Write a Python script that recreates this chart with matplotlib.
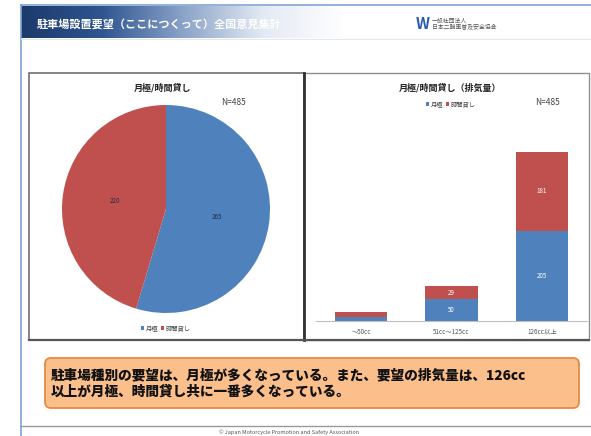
import numpy as np
import matplotlib
matplotlib.use("Agg")
import matplotlib.pyplot as plt
from matplotlib.patches import Rectangle, FancyBboxPatch

plt.rcParams['font.family'] = ['Noto Sans CJK JP', 'DejaVu Sans']

# ---- data ----
slide_title = "駐車場設置要望（ここにつくって）全国意見集計"
pie_title = "月極/時間貸し"
bar_title = "月極/時間貸し（排気量）"
n_label = "N=485"
series_names = ["月極", "時間貸し"]
pie_values = [265, 220]
bar_categories = ["〜50cc", "51cc〜125cc", "126cc以上"]
monthly = [10, 50, 205]
hourly = [10, 29, 181]
callout = ("駐車場種別の要望は、月極が多くなっている。また、要望の排気量は、126cc\n"
           "以上が月極、時間貸し共に一番多くなっている。")
footer = "© Japan Motorcycle Promotion and Safety Association"
logo_text = "一般社団法人\n日本二輪車普及安全協会"

BLUE = "#4F81BD"
RED = "#C0504D"

W, H = 591, 436
fig = plt.figure(figsize=(W / 100, H / 100), dpi=100)
fig.patch.set_facecolor("white")


def ax_px(x0, y0, x1, y1, **kw):
    return fig.add_axes([x0 / W, 1 - y1 / H, (x1 - x0) / W, (y1 - y0) / H], **kw)


# background / slide decoration
bg = ax_px(0, 0, W, H)
bg.set_xlim(0, W)
bg.set_ylim(H, 0)
bg.axis("off")

# header gradient
grad = np.linspace(0, 1, 256)
cmap = matplotlib.colors.LinearSegmentedColormap.from_list(
    "hdr", ["#1c3a6b", "#2f5590", "#8aa3c9", "#e4eaf4", "#ffffff"])
bg.imshow(grad[None, :], extent=(21, 345, 38, 6), cmap=cmap, aspect="auto", zorder=1)
bg.set_xlim(0, W)
bg.set_ylim(H, 0)
bg.plot([21, W], [5, 5], color="#7fa3d3", lw=1.2, zorder=2)
bg.plot([21, 21], [5, H], color="#7fa3d3", lw=1.2, zorder=2)
bg.plot([21, W], [39.5, 39.5], color="#e3e8ef", lw=0.8, zorder=2)
bg.text(37, 24, slide_title, color="white", fontsize=8, fontweight="bold",
        va="center", ha="left", zorder=3)

# logo
bg.text(416, 24, "W", color="#2a5db0", fontsize=11, fontweight="bold",
        va="center", ha="left", zorder=3)
bg.text(432, 24, logo_text, color="#555555", fontsize=4.2, va="center",
        ha="left", linespacing=1.1, zorder=3)

# panels
bg.add_patch(Rectangle((29, 73), 275, 267, facecolor="white",
                       edgecolor="#6f6f6f", lw=1.2, zorder=2))
bg.add_patch(Rectangle((304, 73), 285, 267, facecolor="white",
                       edgecolor="#8f8f8f", lw=1.0, zorder=2))
bg.plot([304, 304], [73, 340], color="#333333", lw=2.0, zorder=3)
bg.plot([29, 589], [340, 340], color="#555555", lw=1.6, zorder=3)

# panel texts
bg.text(163, 88, pie_title, fontsize=6.5, fontweight="bold", ha="center",
        va="center", color="#222222", zorder=4)
bg.text(234, 102, n_label, fontsize=6, ha="center", va="center",
        color="#444444", zorder=4)
bg.text(450, 88, bar_title, fontsize=6.5, fontweight="bold", ha="center",
        va="center", color="#222222", zorder=4)
bg.text(547, 102, n_label, fontsize=6, ha="center", va="center",
        color="#444444", zorder=4)


def legend_at(x, y):
    s = 3.2
    cx = x - 26
    for name, c in zip(series_names, [BLUE, RED]):
        bg.add_patch(Rectangle((cx, y - s / 2), s, s, facecolor=c,
                               edgecolor="none", zorder=4))
        bg.text(cx + s + 1.5, y, name, fontsize=4.5, ha="left",
                va="center", color="#444444", zorder=4)
        cx += 4 + 4.8 * len(name) + 6


legend_at(167, 328)
legend_at(452, 104)

# pie
pax = ax_px(62, 105, 270, 313)
pax.pie(pie_values, colors=[BLUE, RED], startangle=90, counterclock=False,
        labels=None, autopct=lambda p: f"{p * sum(pie_values) / 100:.0f}",
        pctdistance=0.5, textprops=dict(fontsize=4.5, color="#1f2f4f"),
        wedgeprops=dict(linewidth=0))
pax.set_aspect("equal")
pax.set_xlim(-1, 1)
pax.set_ylim(-1, 1)

# stacked bars
bax = ax_px(315.75, 145.4, 587.25, 321)
x = np.arange(len(bar_categories))
b1 = bax.bar(x, monthly, width=0.575, color=BLUE, zorder=2)
b2 = bax.bar(x, hourly, width=0.575, bottom=monthly, color=RED, zorder=2)
for rect, v in zip(b1, monthly):
    if v >= 20:
        bax.text(rect.get_x() + rect.get_width() / 2, rect.get_y() + v / 2,
                 str(v), ha="center", va="center", fontsize=4.5, color="white")
for rect, v, m in zip(b2, hourly, monthly):
    if v >= 20:
        bax.text(rect.get_x() + rect.get_width() / 2, m + v / 2,
                 str(v), ha="center", va="center", fontsize=4.5, color="white")
bax.set_xlim(-0.5, 2.5)
bax.set_ylim(0, 400)
bax.set_xticks(x)
bax.set_xticklabels(bar_categories, fontsize=4.5, color="#555555")
bax.tick_params(axis="x", length=0, pad=5)
bax.set_yticks([])
for s in ["top", "right", "left"]:
    bax.spines[s].set_visible(False)
bax.spines["bottom"].set_color("#bfbfbf")
bax.spines["bottom"].set_linewidth(0.8)
bax.patch.set_alpha(0)

# callout box
bg.add_patch(FancyBboxPatch((45, 358), 534, 50, boxstyle="round,pad=0,rounding_size=6",
                            facecolor="#fbbf8c", edgecolor="#e58a45", lw=1.3, zorder=3))
bg.text(51, 383, callout, fontsize=9.8, fontweight="heavy", ha="left",
        va="center", color="#111111", linespacing=1.2, zorder=4)

# footer
bg.plot([21, W], [426, 426], color="#9a9a9a", lw=1.0, zorder=2)
bg.text(289, 432, footer, fontsize=4, ha="center", va="center",
        color="#555555", zorder=3)

fig.savefig("out.png", dpi=100)
